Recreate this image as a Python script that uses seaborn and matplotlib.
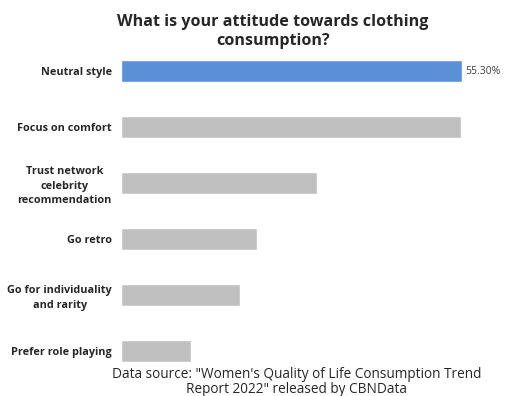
import matplotlib
matplotlib.use("Agg")
import matplotlib.pyplot as plt
import seaborn as sns
import pandas as pd

categories = ["Neutral style", "Focus on comfort", "Trust network\ncelebrity\nrecommendation",
              "Go retro", "Go for individuality\nand rarity", "Prefer role playing"]
values = [55.3, 55.2, 31.8, 22.1, 19.3, 11.3]
colors = ["#5B8FD6", "#C0C0C0", "#C0C0C0", "#C0C0C0", "#C0C0C0", "#C0C0C0"]

sns.set_style("white")
plt.rcParams['font.family'] = ['Open Sans', 'DejaVu Sans']

df = pd.DataFrame({"cat": categories, "val": values})

W, H = 507, 396
fig = plt.figure(figsize=(W/100, H/100), dpi=100)
ax = fig.add_axes([121/W, 1 - 379/H, 370/W, (379-43)/H])
sns.barplot(data=df, y="cat", x="val", hue="cat", palette=colors, legend=False,
            width=0.39, ax=ax, saturation=1)
ax.set_xlim(0, 60)
ax.set_ylim(5.5, -0.5)
ax.set_xlabel("")
ax.set_ylabel("")
ax.set_xticks([])
for s in ax.spines.values():
    s.set_visible(False)
ax.tick_params(axis="y", length=0, pad=6.5)
for lab in ax.get_yticklabels():
    lab.set_fontweight("bold")
    lab.set_fontsize(7.8)
    lab.set_multialignment("center")
    lab.set_linespacing(1.45)
ax.text(values[0] + 0.6, 0, f"{values[0]:.2f}%", va="center", ha="left", fontsize=7.5, color="#404040")

fig.text(273/W, 1 - 31.5/H, "What is your attitude towards clothing\nconsumption?",
         ha="center", va="center", fontsize=11.6, fontweight="bold", linespacing=1.2)
fig.text(297/W, 1 - 382/H, "Data source: \"Women's Quality of Life Consumption Trend\nReport 2022\" released by CBNData",
         ha="center", va="center", fontsize=9.8, linespacing=1.0)

fig.savefig("out.png", dpi=100)
